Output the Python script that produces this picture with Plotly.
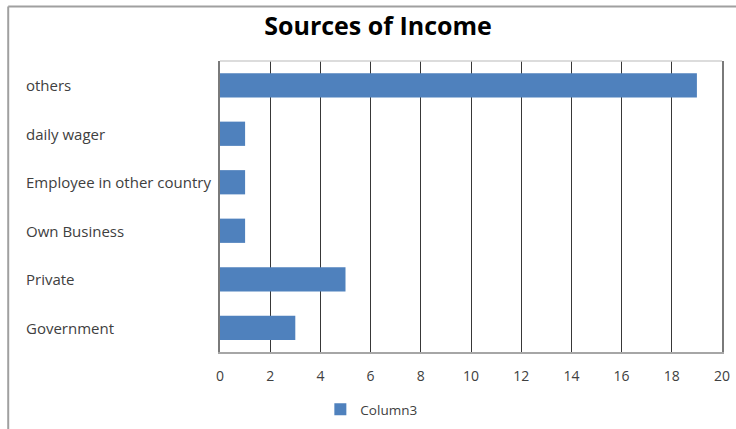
import plotly.graph_objects as go

# Income sources (bottom to top) and respondent counts
categories = ["Government", "Private", "Own Business",
              "Employee in other country", "daily wager", "others"]
counts = [3, 5, 1, 1, 1, 19]
series_name = "Column3"
x_ticks = [0, 2, 4, 6, 8, 10, 12, 14, 16, 18, 20]

W, H = 736, 429
L, R, T, B = 219.5, 14, 60.7, 76.7
pw = W - L - R
ph = H - T - B

def px_to_paper_x(px):
    return (px - L) / pw

def px_to_paper_y(py):
    return (H - B - py) / ph

fig = go.Figure()
fig.add_trace(go.Bar(
    y=categories, x=counts, orientation="h", name=series_name,
    marker=dict(color="#4F81BD", line=dict(width=0)),
    showlegend=True,
))

font_family = "Open Sans, Noto Sans, sans-serif"

# Category names drawn left-aligned at the chart's left side
annotations = [
    dict(x=px_to_paper_x(23), xref="paper", y=c, yref="y",
         text=c, showarrow=False, xanchor="left", yanchor="middle",
         font=dict(family=font_family, size=15, color="#404040"))
    for c in categories
]

shapes = [
    # outer chart frame (left and top edges)
    dict(type="line", xref="paper", yref="paper",
         x0=px_to_paper_x(7.5), x1=px_to_paper_x(7.5),
         y0=px_to_paper_y(440), y1=px_to_paper_y(6),
         line=dict(color="#a0a0a0", width=2)),
    dict(type="line", xref="paper", yref="paper",
         x0=px_to_paper_x(7.5), x1=px_to_paper_x(760),
         y0=px_to_paper_y(6), y1=px_to_paper_y(6),
         line=dict(color="#a0a0a0", width=2)),
    # top edge of plot area
    dict(type="line", xref="paper", yref="paper",
         x0=0, x1=1, y0=1, y1=1,
         line=dict(color="#d0d0d0", width=1.5)),
]

fig.update_layout(
    width=W, height=H,
    margin=dict(l=L, r=R, t=T, b=B, autoexpand=False),
    paper_bgcolor="white", plot_bgcolor="white",
    title=dict(text="<b>Sources of Income</b>", xref="container",
               x=378 / W, xanchor="center", y=1 - 26 / H, yanchor="middle",
               font=dict(family=font_family, size=25, color="black")),
    bargap=0.5,
    xaxis=dict(range=[0, 20], tickvals=x_ticks, ticktext=[str(v) for v in x_ticks],
               showgrid=True, gridcolor="#383838", gridwidth=1.4,
               zeroline=False,
               showline=True, linecolor="#a6a6a6", linewidth=1.5,
               ticks="", ticklabelstandoff=10,
               tickfont=dict(family=font_family, size=14, color="#404040")),
    yaxis=dict(showticklabels=False, showgrid=False, zeroline=False,
               showline=True, mirror=True, linecolor="#7a7a7a", linewidth=2,
               ticks=""),
    legend=dict(orientation="h", x=px_to_paper_x(371), xanchor="center",
                y=px_to_paper_y(410), yanchor="middle",
                font=dict(family=font_family, size=13.5, color="#404040"),
                itemwidth=30),
    annotations=annotations,
    shapes=shapes,
)

fig.write_html("out.html")
